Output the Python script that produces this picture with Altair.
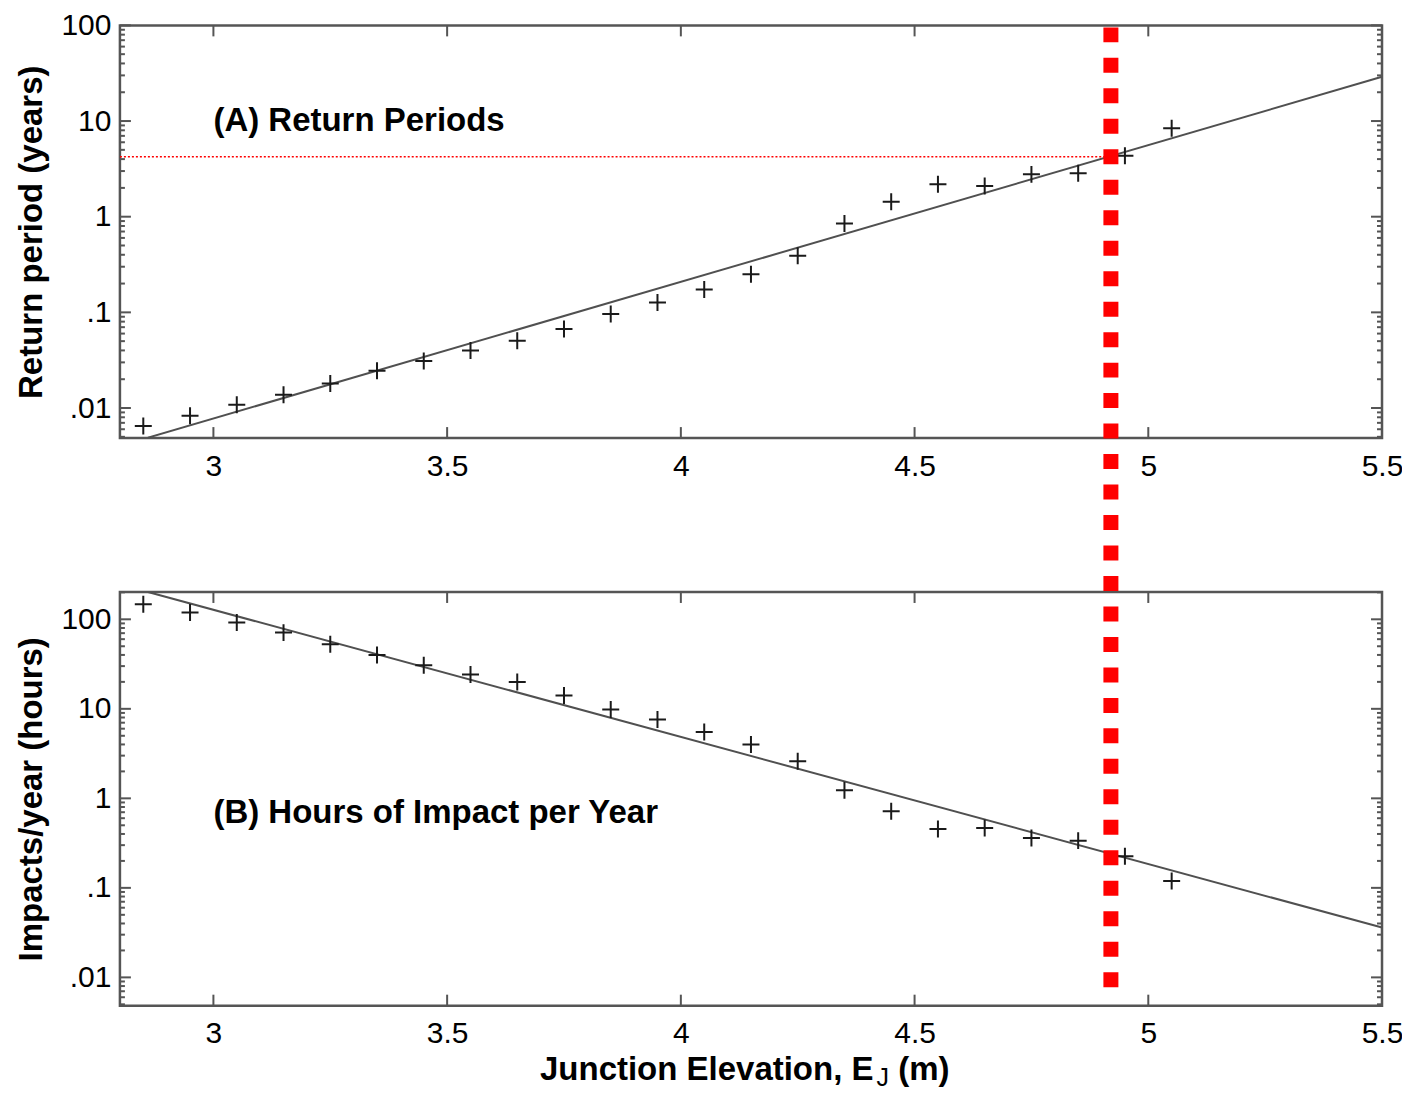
import altair as alt
import pandas as pd

# ---------------- data ----------------
elevation = [2.85, 2.95, 3.05, 3.15, 3.25, 3.35, 3.45, 3.55, 3.65, 3.75, 3.85, 3.95,
             4.05, 4.15, 4.25, 4.35, 4.45, 4.55, 4.65, 4.75, 4.85, 4.95, 5.05]
return_period = [0.0065, 0.0083, 0.0108, 0.0138, 0.018, 0.0245, 0.031, 0.040, 0.0506, 0.067, 0.096, 0.127,
                 0.173, 0.25, 0.39, 0.85, 1.43, 2.18, 2.09, 2.77, 2.84, 4.34, 8.4]
impacts = [147, 119, 92, 71, 52.6, 40, 30.6, 24.2, 19.9, 14.1, 9.8, 7.6,
           5.5, 4.0, 2.6, 1.23, 0.716, 0.455, 0.466, 0.36, 0.337, 0.225, 0.119]

fit_a_x = [2.86, 5.5]
fit_a_y = [0.0049, 29]
fit_b_x = [2.86, 5.5]
fit_b_y = [202, 0.036]

design_elev = 4.92          # red dashed vertical line
design_rp = 4.24            # red dotted horizontal line (return period)

x_ticks = [3, 3.5, 4, 4.5, 5, 5.5]
y_major = [0.01, 0.1, 1, 10, 100]
y_labels = [".01", ".1", "1", "10", "100"]
y_minor_a = [0.005, 0.006, 0.007, 0.008, 0.009,
             0.02, 0.03, 0.04, 0.05, 0.06, 0.07, 0.08, 0.09,
             0.2, 0.3, 0.4, 0.5, 0.6, 0.7, 0.8, 0.9,
             2, 3, 4, 5, 6, 7, 8, 9,
             20, 30, 40, 50, 60, 70, 80, 90]
y_minor_b = y_minor_a + [200]

x_domain = [2.8, 5.5]
ya_domain = [0.00485, 100]
yb_domain = [0.00483, 202]

title_a = "(A) Return Periods"
title_b = "(B) Hours of Impact per Year"
ytitle_a = "Return period (years)"
ytitle_b = "Impacts/year (hours)"
xtitle_main = "Junction Elevation, E"
xtitle_sub = "J"
xtitle_end = "(m)"

# ---------------- styling ----------------
FONT = "Liberation Sans"
W = 1263
HT = 413
HB = 414
GAP = 154
FRAME = "#555555"
LINE = "#505050"
MAJ = 11
MIN = 5

label_expr = " : ".join(f"datum.value == {v} ? '{s}'" for v, s in zip(y_major, y_labels)) + " : ''"

def x_enc(field="x"):
    return alt.X(f"{field}:Q",
                 scale=alt.Scale(domain=x_domain, nice=False, zero=False),
                 axis=alt.Axis(values=x_ticks, format="~g", ticks=False, domain=False, grid=False,
                               labelFont=FONT, labelFontSize=30, labelPadding=13,
                               labelFlush=False, labelColor="black", title=None))

def y_enc(field, domain, ytitle):
    return alt.Y(f"{field}:Q",
                 scale=alt.Scale(type="log", domain=domain, nice=False),
                 axis=alt.Axis(values=y_major, labelExpr=label_expr, ticks=False, domain=False,
                               grid=False, labelFont=FONT, labelFontSize=30, labelPadding=9,
                               labelColor="black", title=ytitle, titleFont=FONT,
                               titleFontSize=33, titleFontWeight="bold", titleColor="black",
                               titlePadding=12))

def tick_layers(minor, domain):
    ys = alt.Scale(type="log", domain=domain, nice=False)
    xs = alt.Scale(domain=x_domain, nice=False, zero=False)
    layers = []
    dmaj = pd.DataFrame({"v": y_major})
    dmin = pd.DataFrame({"v": minor})
    dx = pd.DataFrame({"v": x_ticks})
    for d, L in ((dmaj, MAJ), (dmin, MIN)):
        base = alt.Chart(d).mark_rule(color=FRAME, strokeWidth=2)
        layers.append(base.encode(y=alt.Y("v:Q", scale=ys), x=alt.value(0), x2=alt.value(L)))
        layers.append(base.encode(y=alt.Y("v:Q", scale=ys), x=alt.value(W - L), x2=alt.value(W)))
    basex = alt.Chart(dx).mark_rule(color=FRAME, strokeWidth=2)
    return layers, basex, xs

def panel(ycol, yvals, fx, fy, domain, ytitle, minor, H, label, label_y):
    pts = pd.DataFrame({"x": elevation, ycol: yvals})
    fit = pd.DataFrame({"x": fx, ycol: fy})
    line = alt.Chart(fit).mark_line(color=LINE, strokeWidth=2, clip=True).encode(
        x=x_enc(), y=y_enc(ycol, domain, ytitle))
    cross = alt.Chart(pts).mark_point(
        shape="M-1,0L1,0M0,-1L0,1", filled=False, size=289, stroke="#1a1a1a",
        strokeWidth=2, opacity=1).encode(x=x_enc(), y=y_enc(ycol, domain, ytitle))
    txt = alt.Chart(pd.DataFrame({"x": [3.0], ycol: [label_y], "t": [label]})).mark_text(
        align="left", baseline="middle", font=FONT, fontSize=33, fontWeight="bold",
        color="black").encode(x=x_enc(), y=y_enc(ycol, domain, ytitle), text="t:N")
    ylayers, basex, xs = tick_layers(minor, domain)
    xt_bottom = basex.encode(x=alt.X("v:Q", scale=xs), y=alt.value(H - MAJ), y2=alt.value(H))
    xt_top = basex.encode(x=alt.X("v:Q", scale=xs), y=alt.value(0), y2=alt.value(MAJ))
    return [line, cross, txt] + ylayers + [xt_bottom, xt_top]

# top panel
top_layers = panel("rp", return_period, fit_a_x, fit_a_y, ya_domain, ytitle_a,
                   y_minor_a, HT, title_a, 10)
hline = alt.Chart(pd.DataFrame({"x": [x_domain[0]], "x2": [design_elev], "rp": [design_rp]})).mark_rule(
    color="#ff0000", strokeWidth=1.5, strokeDash=[2, 2]).encode(
    x=x_enc(), x2="x2:Q", y=y_enc("rp", ya_domain, ytitle_a))
top = alt.layer(*top_layers, hline).properties(width=W, height=HT)

# bottom panel
bot_layers = panel("imp", impacts, fit_b_x, fit_b_y, yb_domain, ytitle_b,
                   y_minor_b, HB, title_b, 0.686)
xs = alt.Scale(domain=x_domain, nice=False, zero=False)
t1 = alt.Chart(pd.DataFrame({"x": [4.412]})).mark_text(
    align="right", baseline="alphabetic", font=FONT, fontSize=33, fontWeight="bold",
    color="black").encode(x=alt.X("x:Q", scale=xs), y=alt.value(HB + 74), text=alt.value(xtitle_main))
t2 = alt.Chart(pd.DataFrame({"x": [4.432]})).mark_text(
    align="center", baseline="alphabetic", font=FONT, fontSize=25, fontWeight="normal",
    color="black").encode(x=alt.X("x:Q", scale=xs), y=alt.value(HB + 80), text=alt.value(xtitle_sub))
t3 = alt.Chart(pd.DataFrame({"x": [4.465]})).mark_text(
    align="left", baseline="alphabetic", font=FONT, fontSize=33, fontWeight="bold",
    color="black").encode(x=alt.X("x:Q", scale=xs), y=alt.value(HB + 74), text=alt.value(xtitle_end))
vrule = alt.Chart(pd.DataFrame({"x": [design_elev]})).mark_rule(
    color="#ff0000", strokeWidth=15, strokeDash=[15, 15.5], strokeCap="butt").encode(
    x=alt.X("x:Q", scale=xs), y=alt.value(-(HT + GAP) + 2), y2=alt.value(HB - 12))
bot = alt.layer(*bot_layers, t1, t2, t3, vrule).properties(width=W, height=HB)

chart = alt.vconcat(top, bot, spacing=GAP, bounds="flush").properties(
    padding={"left": 6, "top": 0, "right": -3, "bottom": 0}
).configure_view(stroke=FRAME, strokeWidth=2.5, fill="white")

chart.save("out.html", embed_options={"renderer": "svg", "actions": False})
